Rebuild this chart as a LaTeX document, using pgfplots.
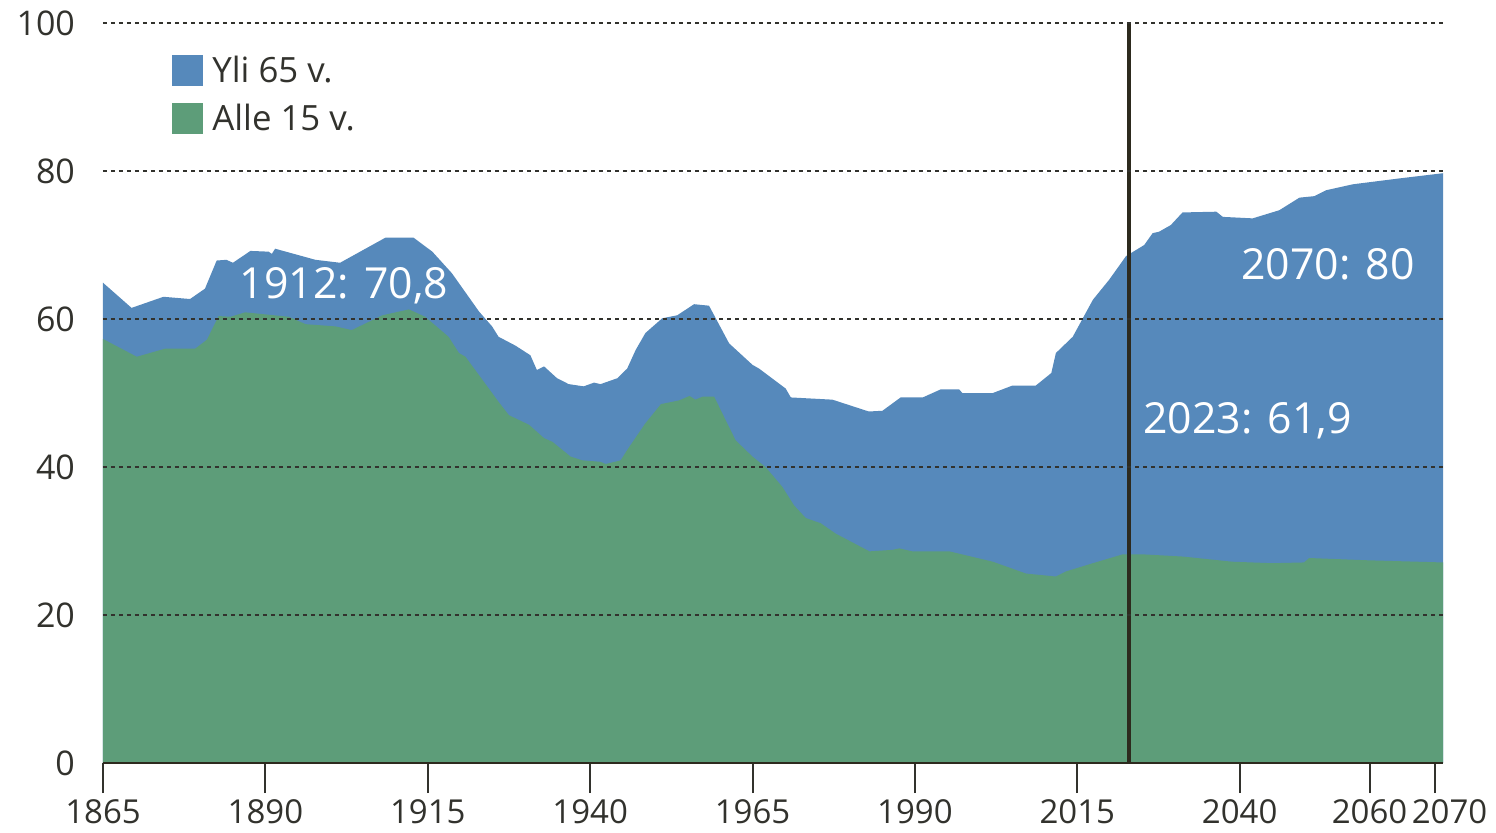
\documentclass[border=0pt]{standalone}
\usepackage{fontspec}
\setmainfont{Open Sans}
\usepackage{pgfplots}
\pgfplotsset{compat=1.18}
\definecolor{blueA}{RGB}{86,137,187}
\definecolor{greenA}{RGB}{93,157,121}
\definecolor{txt}{RGB}{50,50,45}
\definecolor{vline}{RGB}{45,42,30}
\pgfplotstableread{
year total
1865 64.9
1869.4 61.5
1874.3 63.0
1878.4 62.7
1880.7 64.1
1882.5 67.9
1884 68.0
1885 67.6
1887.7 69.2
1890.5 69.1
1891 68.8
1891.5 69.5
1897.7 68.0
1901.5 67.6
1908.5 71.0
1912.8 71.0
1915.7 69.1
1918.7 66.2
1922.9 61.0
1924.9 59.0
1925.9 57.6
1928.5 56.4
1930.8 55.1
1931.8 53.1
1932.9 53.6
1934.9 52.0
1936.7 51.2
1939 50.9
1940.6 51.4
1941.6 51.2
1944.2 52.0
1945.7 53.3
1947 55.8
1948.5 58.1
1951.1 60.1
1953.4 60.5
1956 62.0
1958.3 61.8
1961.4 56.7
1965 53.8
1966 53.3
1970.1 50.6
1970.9 49.4
1977.3 49.1
1982.9 47.5
1985 47.6
1987.8 49.4
1991.2 49.4
1994 50.5
1996.8 50.5
1997.3 50.0
2002 50.0
2005 51.0
2008.6 51.0
2011 52.7
2011.7 55.4
2014.3 57.6
2017.4 62.6
2019.9 65.3
2022.5 68.5
2025.3 70.0
2026.6 71.6
2027.6 71.8
2029.4 72.7
2031.2 74.4
2036.4 74.5
2037.4 73.8
2042 73.6
2046.1 74.7
2049.2 76.4
2051.5 76.6
2053.3 77.4
2057.4 78.2
2064.6 79.0
2071.3 79.7
}\totaltab
\pgfplotstableread{
year young
1865 57.3
1870.2 54.9
1874.6 56.0
1879.2 56.0
1881 57.2
1882.8 60.4
1884.6 60.3
1886.9 60.9
1893.6 60.3
1896.2 59.3
1900.8 59.0
1903.3 58.5
1908 60.5
1912.1 61.3
1914.6 60.3
1918.2 57.6
1919.8 55.4
1920.8 54.9
1923.4 51.8
1925.9 48.8
1927.5 47.0
1930.6 45.7
1932.9 43.9
1934.2 43.4
1937 41.4
1938.8 40.9
1941.6 40.7
1942.4 40.4
1944.7 40.9
1945.7 42.3
1948.5 45.9
1950.9 48.5
1953.7 49.0
1955.3 49.6
1956.2 49.1
1957.3 49.5
1959.1 49.5
1960.6 46.8
1962.4 43.6
1965 41.4
1967 40.0
1969.6 37.3
1971.4 34.8
1973.2 33.1
1975.5 32.4
1977.8 31.0
1983 28.6
1986.5 28.8
1987.6 29.0
1989.6 28.6
1995.3 28.6
2002 27.2
2007.1 25.6
2011.7 25.2
2013.3 25.9
2017.4 27.0
2022 28.2
2025 28.2
2031.2 27.9
2038.9 27.2
2045 27.0
2049.9 27.1
2050.7 27.7
2059.5 27.4
2071.3 27.1
}\youngtab
\begin{document}
\begin{tikzpicture}
\begin{axis}[name=ax, scale only axis, width=670pt, height=370pt,
  xmin=1865, xmax=2071.3, ymin=0, ymax=100,
  axis on top,
  axis x line*=bottom, axis y line*=left,
  y axis line style={draw=none},
  x axis line style={line width=1pt, color=vline},
  xtick={1865,1890,1915,1940,1965,1990,2015,2040,2060,2070},
  xticklabels={1865,1890,1915,1940,1965,1990,2015,2040,{2060\hspace{3pt}},{\hspace{15pt}2070}},
  ytick={0,20,40,60,80,100},
  /pgf/number format/.cd, 1000 sep={}, assume math mode=true, /pgfplots/.cd,
  tick align=outside, major tick length=15pt,
  xtick style={line width=1pt, color=txt},
  ytick style={draw=none},
  ymajorgrids, grid style={dash pattern=on 2pt off 2pt, line width=0.6pt, color=txt},
  tick label style={font=\fontsize{16.5}{20}\selectfont, text=txt},
  yticklabel style={xshift=4.5pt, font=\fontsize{17}{20}\selectfont},
  legend image code/.code={\fill[#1] (0pt,-7.75pt) rectangle (15.5pt,7.75pt);},
  legend style={draw=none, fill=none, at={(0.0515,0.961)}, anchor=north west,
    inner sep=0pt, row sep=5pt, font=\fontsize{17.4}{20}\selectfont, text=txt,
    nodes={inner sep=2pt}},
  legend cell align=left,
]
\addplot[fill=blueA, draw=none] table[x=year, y=total] {\totaltab} \closedcycle;
\addlegendentry{\hspace{2.5pt}Yli 65 v.}
\addplot[fill=greenA, draw=none] table[x=year, y=young] {\youngtab} \closedcycle;
\addlegendentry{\hspace{2.5pt}Alle 15 v.}
\draw[vline, line width=2pt] (axis cs:2023,0) -- (axis cs:2023,100);
\node[text=white, anchor=base, font=\fontsize{21.4}{24}\selectfont] at (axis cs:1902.1,62.8) {1912: 70,8};
\node[text=white, anchor=base, font=\fontsize{21.4}{24}\selectfont] at (axis cs:2053.6,65.4) {2070: 80};
\node[text=white, anchor=base, font=\fontsize{21.4}{24}\selectfont] at (axis cs:2041.2,44.5) {2023: 61,9};
\end{axis}
\path ([xshift=-51.5pt,yshift=-34.5pt]ax.south west) rectangle ([xshift=26.5pt,yshift=11.5pt]ax.north east);
\end{tikzpicture}
\end{document}
